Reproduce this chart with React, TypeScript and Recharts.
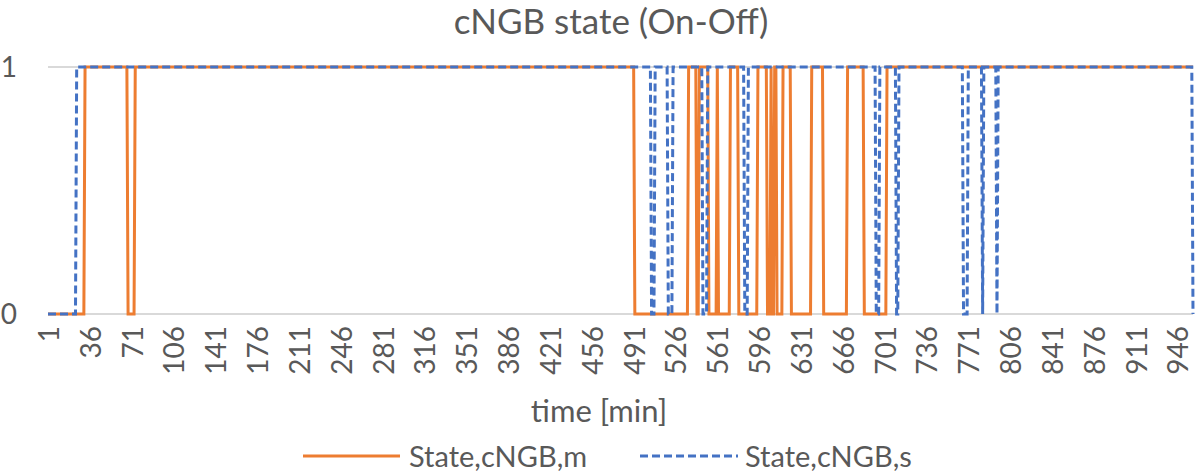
import { LineChart, Line, XAxis, YAxis, CartesianGrid } from 'recharts';

// minutes on the x axis (1..959)
const firstMinute = 1;
const lastMinute = 959;

// periods (inclusive minute ranges) where each state is Off = 0, otherwise On = 1
const offPeriodsM: [number, number][] = [
  [1, 31], [68, 73], [492, 536], [544, 545], [554, 560], [562, 571],
  [579, 594], [603, 605], [607, 608], [611, 615], [623, 639], [650, 669], [684, 702],
];
const offPeriodsS: [number, number][] = [
  [1, 24], [506, 508], [520, 523], [549, 552], [584, 586], [694, 696],
  [711, 712], [767, 770], [783, 783], [795, 795], [959, 959],
];

const yTicks = [0, 1];

const FONT = 'Lato, "Open Sans", sans-serif';
const TEXT = '#595959';
const ORANGE = '#ED7D31';
const BLUE = '#4472C4';

function stateAt(periods: [number, number][], m: number) {
  return periods.some(([a, b]) => m >= a && m <= b) ? 0 : 1;
}

const data: { minute: number; m: number; s: number }[] = [];
for (let t = firstMinute; t <= lastMinute; t++) {
  data.push({ minute: t, m: stateAt(offPeriodsM, t), s: stateAt(offPeriodsS, t) });
}

function RotatedTick(props: any) {
  const { x, y, payload } = props;
  return (
    <text
      x={x}
      y={y}
      transform={`rotate(-90, ${x}, ${y})`}
      textAnchor="end"
      dominantBaseline="central"
      fill={TEXT}
      fontSize={28}
      fontFamily={FONT}
    >
      {payload.value}
    </text>
  );
}

export default function App() {
  return (
    <div style={{ position: 'absolute', left: 0, top: 0, width: 1198, height: 474, background: '#fff', fontFamily: FONT }}>
      <div style={{ position: 'absolute', left: 0, width: 1198, top: 0, textAlign: 'center', fontSize: 35, color: TEXT, lineHeight: '40px', paddingLeft: 12 }}>
        cNGB state (On-Off)
      </div>

      <LineChart width={1198} height={474} data={data} margin={{ top: 67, right: 5, left: 0, bottom: 0 }}>
        <CartesianGrid vertical={false} stroke="#d9d9d9" strokeWidth={2} />
        <XAxis
          dataKey="minute"
          type="category"
          interval={34}
          height={160}
          axisLine={false}
          tickLine={false}
          tickMargin={6}
          tick={<RotatedTick />}
        />
        <YAxis
          width={48}
          domain={[0, 1]}
          ticks={yTicks}
          axisLine={false}
          tickLine={false}
          tickMargin={25}
          tick={{ fill: TEXT, fontSize: 28, fontFamily: FONT }}
        />
        <Line type="linear" dataKey="m" stroke={ORANGE} strokeWidth={3} dot={false} isAnimationActive={false} />
        <Line type="linear" dataKey="s" stroke={BLUE} strokeWidth={3} strokeDasharray="8 4" dot={false} isAnimationActive={false} />
      </LineChart>

      <div style={{ position: 'absolute', left: 0, width: 1198, top: 392, textAlign: 'center', fontSize: 31, color: TEXT, lineHeight: '36px' }}>
        time [min]
      </div>

      <div style={{ position: 'absolute', left: 0, top: 438, width: 1198, height: 36 }}>
        <svg width={1198} height={36} style={{ position: 'absolute', left: 0, top: 0 }}>
          <line x1={303} y1={18} x2={400} y2={18} stroke={ORANGE} strokeWidth={3} />
          <line x1={640} y1={18} x2={738} y2={18} stroke={BLUE} strokeWidth={3} strokeDasharray="8 4" />
        </svg>
        <div style={{ position: 'absolute', left: 409, top: 0, fontSize: 29, color: TEXT, lineHeight: '36px', whiteSpace: 'nowrap' }}>
          State,cNGB,m
        </div>
        <div style={{ position: 'absolute', left: 745, top: 0, fontSize: 29, color: TEXT, lineHeight: '36px', whiteSpace: 'nowrap' }}>
          State,cNGB,s
        </div>
      </div>
    </div>
  );
}
